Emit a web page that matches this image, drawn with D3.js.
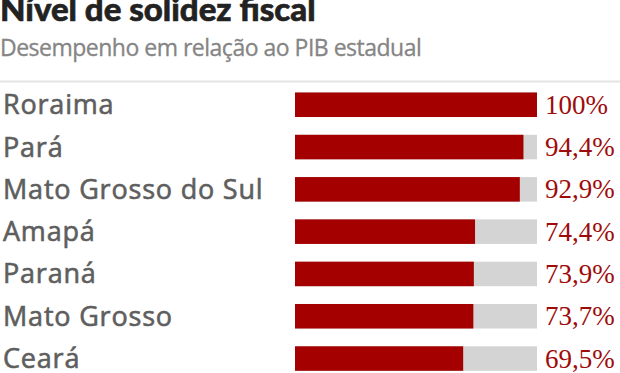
<!DOCTYPE html>
<html>
<head>
<meta charset="utf-8">
<script src="https://cdn.jsdelivr.net/npm/d3@7"></script>
<style>
  body { margin: 0; background: #fff; }
  svg { display: block; }
</style>
</head>
<body>
<div id="chart"></div>
<script>
// dados
var estados = ["Roraima", "Pará", "Mato Grosso do Sul", "Amapá", "Paraná", "Mato Grosso", "Ceará"];
var valores = [100, 94.4, 92.9, 74.4, 73.9, 73.7, 69.5];
var rotulos = ["100%", "94,4%", "92,9%", "74,4%", "73,9%", "73,7%", "69,5%"];
var maximo = [100];

var width = 620, height = 373;

var svg = d3.select("#chart").append("svg")
    .attr("width", width)
    .attr("height", height);

svg.append("text")
    .attr("x", 0)
    .attr("y", 21)
    .attr("font-family", "Lato, sans-serif")
    .attr("font-weight", 900)
    .attr("font-size", 33)
    .attr("fill", "#222")
    .attr("stroke", "#222")
    .attr("stroke-width", 0.6)
    .text("Nível de solidez fiscal");

svg.append("text")
    .attr("x", 0)
    .attr("y", 55.5)
    .attr("font-family", "Open Sans, sans-serif")
    .attr("font-size", 23)
    .attr("letter-spacing", -0.5)
    .attr("fill", "#858585")
    .attr("stroke", "#858585")
    .attr("stroke-width", 0.3)
    .text("Desempenho em relação ao PIB estadual");

svg.append("line")
    .attr("x1", 0).attr("x2", width)
    .attr("y1", 81.5).attr("y2", 81.5)
    .attr("stroke", "#e4e4e4")
    .attr("stroke-width", 2);

var xScale = d3.scaleLinear().domain([0, maximo[0]]).range([295, 537]);
var step = 42.3;
var yScale = d3.scaleBand()
    .domain(estados)
    .range([83.6, 83.6 + estados.length * step])
    .paddingInner(0.42)
    .paddingOuter(0.21);

var linhas = svg.selectAll(".linha")
    .data(estados)
    .enter().append("g")
    .attr("class", "linha");

// fundo cinza
linhas.append("rect")
    .attr("x", xScale(0))
    .attr("y", function(d) { return yScale(d); })
    .attr("width", xScale(maximo[0]) - xScale(0))
    .attr("height", yScale.bandwidth())
    .attr("fill", "#d4d4d4");

linhas.append("rect")
    .attr("x", xScale(0))
    .attr("y", function(d) { return yScale(d); })
    .attr("width", function(d, i) { return xScale(valores[i]) - xScale(0); })
    .attr("height", yScale.bandwidth())
    .attr("fill", "#a50000");

linhas.append("text")
    .attr("x", 3)
    .attr("y", function(d) { return yScale(d) + yScale.bandwidth() / 2 + 9.5; })
    .attr("font-family", "Open Sans, sans-serif")
    .attr("font-size", 27)
    .attr("letter-spacing", 0.8)
    .attr("fill", "#5e5e5e")
    .attr("stroke", "#5e5e5e")
    .attr("stroke-width", 0.6)
    .text(function(d) { return d; });

linhas.append("text")
    .attr("x", xScale(maximo[0]) + 8)
    .attr("y", function(d) { return yScale(d) + yScale.bandwidth() / 2 + 9; })
    .attr("font-family", "Liberation Serif, serif")
    .attr("font-size", 27)
    .attr("fill", "#9e0b0b")
    .text(function(d, i) { return rotulos[i]; });
</script>
</body>
</html>
